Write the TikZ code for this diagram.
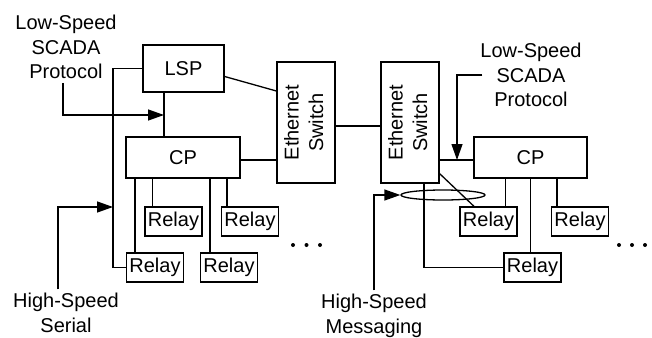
\documentclass[tikz,border=0pt]{standalone}
\usepackage{fontspec}
\setmainfont{Liberation Sans}
\usetikzlibrary{arrows.meta,shapes.geometric}

\begin{document}
\begin{tikzpicture}[x=1pt,y=-1pt,
        font=\fontsize{20}{24.5}\selectfont,
        line width=1.3pt,
        box/.style={draw, inner sep=0pt},
        relay/.style={box, minimum width=57pt, minimum height=29pt},
        note/.style={align=center},
        arrowin/.style={-{Triangle[length=16pt,width=11pt]}}]
        \useasboundingbox (0,0) rectangle (652,337);

        % Boxes
        \node[box, minimum width=81pt, minimum height=47pt] (lsp) at (183.5,68.5) {LSP};
        \node[box, minimum width=114pt, minimum height=41pt] (cpL) at (183,157.5) {CP};
        \node[box, minimum width=113pt, minimum height=41pt] (cpR) at (530.5,157.5) {CP};
        \node[box, minimum width=58pt, minimum height=121pt] (esL) at (306,122.5)
            {\rotatebox{90}{\begin{tabular}{@{}c@{}}Ethernet\\Switch\end{tabular}}};
        \node[box, minimum width=58pt, minimum height=121pt] (esR) at (410,122.5)
            {\rotatebox{90}{\begin{tabular}{@{}c@{}}Ethernet\\Switch\end{tabular}}};

        % Relays
        \node[relay] (rA) at (173.5,221.5) {Relay};
        \node[relay] (rB) at (250,221.5) {Relay};
        \node[relay] (rC) at (155,267.5) {Relay};
        \node[relay] (rD) at (229,267.5) {Relay};
        \node[relay] (rE) at (488.5,221.5) {Relay};
        \node[relay] (rF) at (580,221.5) {Relay};
        \node[relay] (rG) at (532.5,267.5) {Relay};

        % Messaging ring
        \node[ellipse, draw, inner sep=0pt, minimum width=84pt, minimum height=10pt] (ring) at (443,195) {};

        % Texts
        \node[note] (lsTxtL) at (66,47) {Low-Speed\\SCADA\\Protocol};
        \node[note] (lsTxtR) at (531,75) {Low-Speed\\SCADA\\Protocol};
        \node[note] (hsTxtL) at (66,313) {High-Speed\\Serial};
        \node[note] (hsTxtR) at (374,316) {High-Speed\\Messaging};

        % Bus points
        \coordinate (busL) at (113,207);
        \coordinate (tapL) at (164,115);
        \coordinate (tapR) at (457,160);

        % Links
        \draw ([yshift=-8pt]lsp.east) -- ([yshift=31.5pt]esL.west);
        \draw ([yshift=-2.5pt]cpL.east) -- ([yshift=-2.5pt]cpL.east -| esL.west);
        \draw ([yshift=-3.5pt]esL.east) -- ([yshift=-3.5pt]esR.west);
        \draw ([yshift=-2.5pt]cpR.west) -- ([yshift=-2.5pt]cpR.west -| esR.east);
        \draw (lsp.west) -| (busL) |- (rC.west);
        \draw (tapL |- lsp.south) -- (tapL |- cpL.north);
        \draw ([yshift=10pt]esR.south east) -- ([xshift=-14.5pt]rE.north);
        \draw ([xshift=14pt]esR.south) |- (rG.west);

        % Relay taps
        \foreach \r/\d/\c in {rC/9/cpL, rA/8/cpL, rD/10/cpL, rB/6/cpL, rE/46/cpR, rG/27/cpR, rF/6/cpR} {
            \draw ([xshift=\d pt]\r.north west) -- ([xshift=\d pt]\r.north west |- \c.south);
        }

        % Arrows
        \draw[arrowin] ([xshift=-3pt]lsTxtL.south) |- (tapL);
        \draw[arrowin] ([xshift=-8pt]hsTxtL.north) |- (busL);
        \draw[arrowin] ([xshift=6pt]lsTxtR.west) -| (tapR);
        \draw[arrowin] (hsTxtR.north) |- (ring.west);

        % Dots
        \foreach \x in {293,306.5,320,619,632,645} {
            \fill (\x,245) circle (2pt);
        }
    \end{tikzpicture}
\end{document}
